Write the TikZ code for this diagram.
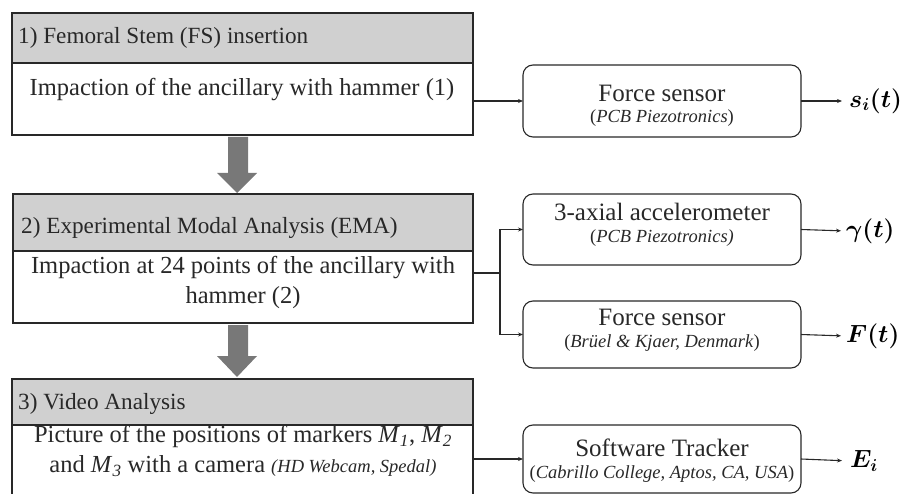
\documentclass[tikz,border=0pt]{standalone}
\usepackage{fontspec}
\setmainfont{Liberation Serif}
\usepackage{bm}
\usetikzlibrary{arrows.meta}
\definecolor{hdrgray}{RGB}{208,208,208}
\definecolor{arrgray}{RGB}{120,120,120}
\definecolor{ink}{RGB}{40,40,40}
\newcommand{\mk}[1]{\textit{M}\textsubscript{\textit{#1}}}
\begin{document}
\begin{tikzpicture}[x=1pt,y=-1pt,
  frame/.style={draw=ink, line width=1.1pt, rectangle, inner sep=0pt, outer sep=0pt, anchor=north west},
  hdr/.style={frame, fill=hdrgray},
  bodybox/.style={frame, fill=white},
  sensor/.style={draw=ink, line width=1.1pt, rounded corners=10pt, rectangle, inner sep=0pt, outer sep=0pt, minimum width=278pt, anchor=north west},
  hdrtext/.style={anchor=west, inner sep=0pt, text=ink, font=\fontsize{23.2}{27}\selectfont},
  bodytext/.style={inner sep=0pt, text=ink, align=center, font=\fontsize{24.5}{30}\selectfont},
  maintext/.style={inner sep=0pt, text=ink, font=\fontsize{25}{27}\selectfont},
  subtext/.style={inner sep=0pt, text=ink, font=\fontsize{18.5}{20}\selectfont},
  outlabel/.style={anchor=west, inner sep=0pt, font=\fontsize{26}{30}\selectfont},
  conn/.style={draw=ink, line width=1.1pt, -{Stealth[length=5pt,width=4pt]}},
  bigarrow/.style={fill=arrgray, draw=none}
]
\useasboundingbox (0,0) rectangle (907,494);
\clip (0,0) rectangle (907,494);

% ---- Stage 1 ----
\node[hdr, minimum width=461pt, minimum height=50pt] (h1) at (12,13) {};
\node[bodybox, minimum width=461pt, minimum height=72pt] (b1) at (12,63) {};
\node[hdrtext] (h1t) at (18,38) {1) Femoral Stem (FS) insertion};
\node[bodytext] (b1t) at (242,90) {Impaction of the ancillary with hammer (1)};

% ---- Stage 2 ----
\node[hdr, minimum width=460pt, minimum height=57pt] (h2) at (13,194) {};
\node[bodybox, minimum width=460pt, minimum height=72pt] (b2) at (13,251) {};
\node[hdrtext] (h2t) at (21,228) {2) Experimental Modal Analysis (EMA)};
\node[bodytext] (b2t) at (243,282) {Impaction at 24 points of the ancillary with\\hammer (2)};

% ---- Stage 3 ----
\node[hdr, minimum width=461pt, minimum height=46pt] (h3) at (12,379) {};
\node[bodybox, minimum width=461pt, minimum height=100pt] (b3) at (12,425) {};
\node[hdrtext] (h3t) at (18,404) {3) Video Analysis};
\node[bodytext] (b3t) at (243,451) {Picture of the positions of markers \mk{1}, \mk{2}\\and \mk{3} with a camera {\fontsize{18.5}{20}\selectfont\itshape (HD Webcam, Spedal)}};

% ---- big arrows ----
\path[bigarrow] (228,137) -- (248,137) -- (248,173) -- (257,173) -- (237,193) -- (217,173) -- (228,173) -- cycle;
\path[bigarrow] (228,325) -- (248,325) -- (248,356) -- (257,356) -- (237,377) -- (217,356) -- (228,356) -- cycle;

% ---- sensor boxes ----
\node[sensor, minimum height=72pt] (s1) at (523,65) {};
\node[maintext] (s1a) at (662,93) {Force sensor};
\node[subtext] (s1b) at (662,118) {(\textit{PCB Piezotronics})};

\node[sensor, minimum height=71pt] (s2) at (523,194) {};
\node[maintext] (s2a) at (662,212) {3-axial accelerometer};
\node[subtext] (s2b) at (662,238) {(\textit{PCB Piezotronics)}};

\node[sensor, minimum height=67pt] (s3) at (523,301) {};
\node[maintext] (s3a) at (662,317) {Force sensor};
\node[subtext] (s3b) at (662,343) {(\textit{Brüel \& Kjaer, Denmark})};

\node[sensor, minimum height=68pt] (s4) at (523,425) {};
\node[maintext] (s4a) at (662,448) {Software Tracker};
\node[subtext] (s4b) at (662,474) {(\textit{Cabrillo College, Aptos, CA, USA})};

% ---- connectors ----
\coordinate (j2) at (500,273);
\draw[conn] (s1.west -| b1.east) -- (s1.west);
\draw[draw=ink, line width=1.1pt] (b2.east |- j2) -- (j2);
\draw[conn] (j2) |- (s2.west);
\draw[conn] (j2) |- (s3.west);
\draw[conn] (s4.west -| b3.east) -- (s4.west);

% ---- outputs ----
\node[outlabel] (o1) at (849,101) {$\bm{s_i(t)}$};
\node[outlabel] (o2) at (846,231) {$\bm{\gamma(t)}$};
\node[outlabel] (o3) at (846,336) {$\bm{F(t)}$};
\node[outlabel] (o4) at (850,461) {$\bm{E_i}$};
\draw[conn, shorten >=7pt] (s1.east) -- (o1.west);
\draw[conn, shorten >=5pt] (s2.east) -- (o2.west);
\draw[conn, shorten >=5pt] (s3.east) -- (o3.west);
\draw[conn, shorten >=8pt] (s4.east) -- (o4.west);
\end{tikzpicture}
\end{document}
